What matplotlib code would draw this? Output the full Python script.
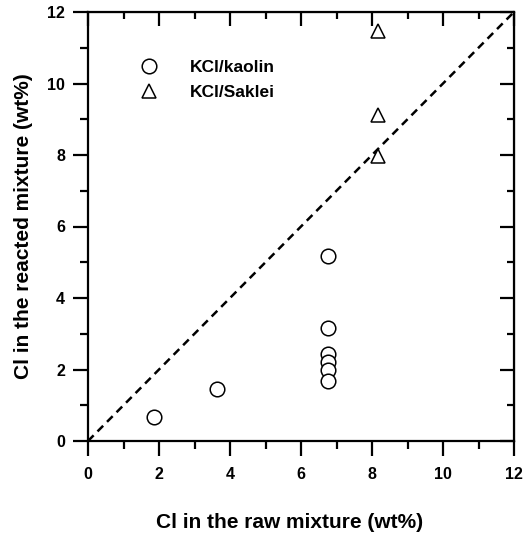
import numpy as np
import matplotlib

matplotlib.use("Agg")
import matplotlib.pyplot as plt
from matplotlib.ticker import MultipleLocator

plt.rcParams["font.family"] = ["Liberation Sans", "DejaVu Sans"]
plt.rcParams["font.weight"] = "bold"

# KCl/kaolin
kaolin_raw = [1.85, 3.63, 6.77, 6.77, 6.77, 6.77, 6.77, 6.77]
kaolin_reacted = [0.67, 1.45, 5.17, 3.17, 2.42, 2.20, 1.99, 1.68]
# KCl/Saklei
saklei_raw = [8.18, 8.18, 8.18]
saklei_reacted = [11.48, 9.13, 7.98]

diag = [0, 12]

fig = plt.figure(figsize=(5.25, 5.33), dpi=100)
ax = fig.add_axes([88 / 525, 92 / 533, 426 / 525, 429 / 533])

ax.plot(diag, diag, color="black", lw=1.8, ls=(0, (3.2, 2.2)))
ax.plot(kaolin_raw, kaolin_reacted, ls="none", marker="o", ms=10.5,
        mfc="white", mec="black", mew=1.1, label="KCl/kaolin")
ax.plot(saklei_raw, saklei_reacted, ls="none", marker="^", ms=10,
        mfc="white", mec="black", mew=1.1, label="KCl/Saklei")

ax.set_xlim(0, 12)
ax.set_ylim(0, 12)
for s in ax.spines.values():
    s.set_linewidth(1.6)

ax.xaxis.set_major_locator(MultipleLocator(2))
ax.xaxis.set_minor_locator(MultipleLocator(1))
ax.yaxis.set_major_locator(MultipleLocator(2))
ax.yaxis.set_minor_locator(MultipleLocator(1))
ax.tick_params(which="major", direction="out", length=10.5, width=1.6,
               labelsize=11.5)
ax.tick_params(axis="x", which="major", pad=8)
ax.tick_params(axis="y", which="major", pad=6)
ax.tick_params(which="minor", direction="out", length=6, width=1.6)
for lab in ax.get_xticklabels() + ax.get_yticklabels():
    lab.set_fontweight("bold")

top = ax.secondary_xaxis("top")
top.xaxis.set_major_locator(MultipleLocator(2))
top.xaxis.set_minor_locator(MultipleLocator(1))
top.tick_params(which="major", direction="in", length=10, width=1.6, labeltop=False)
top.tick_params(which="minor", direction="in", length=5, width=1.6)

right = ax.secondary_yaxis("right")
right.yaxis.set_major_locator(MultipleLocator(2))
right.yaxis.set_minor_locator(MultipleLocator(1))
right.tick_params(which="major", direction="in", length=10, width=1.6, labelright=False)
right.tick_params(which="minor", direction="in", length=5, width=1.6)

ax.set_xlabel("Cl in the raw mixture (wt%)", fontsize=15, fontweight="bold")
ax.set_ylabel("Cl in the reacted mixture (wt%)", fontsize=15, fontweight="bold")
ax.xaxis.set_label_coords(0.474, -0.168)
ax.yaxis.set_label_coords(-0.128, 0.5)

ax.legend(loc="upper left", bbox_to_anchor=(0.065, 0.925), frameon=False,
          handletextpad=1.4, labelspacing=0.55,
          prop={"weight": "bold", "size": 12.5})

fig.savefig("out.png", dpi=100)
